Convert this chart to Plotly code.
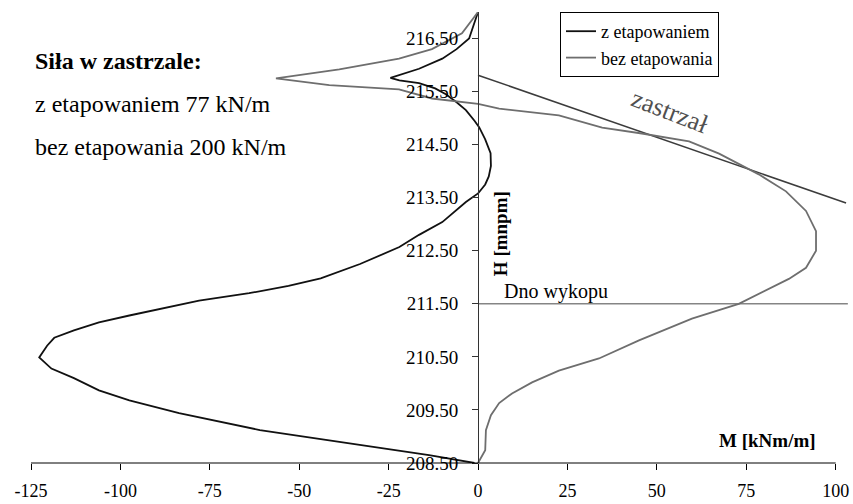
import plotly.graph_objects as go

# ---- data ----
etap_x = [0, -1, -2.5, -6, -10, -16.5, -22, -24.5, -22, -16.5, -12, -9, -6, -3.4, -1, 0.3, 2, 3.5,
          3.6, 3.0, 2, 0, -3.4, -10, -16.5, -22, -33, -44, -53, -64, -78, -86, -97.5, -106, -113,
          -118.5, -120.5, -122.7, -119.3, -113, -106, -97.5, -83.6, -61, -33, -13.7, -1]
etap_y = [217.0, 216.8, 216.5, 216.3, 216.12, 215.93, 215.82, 215.76, 215.71, 215.66, 215.56, 215.45,
          215.3, 215.15, 214.95, 214.83, 214.6, 214.34, 214.1, 213.9, 213.75, 213.58, 213.42, 213.04,
          212.8, 212.57, 212.25, 211.98, 211.84, 211.7, 211.56, 211.45, 211.28, 211.15, 211.0,
          210.86, 210.71, 210.49, 210.28, 210.1, 209.87, 209.68, 209.44, 209.12, 208.84, 208.65, 208.5]

bez_x = [0, -4.5, -12.9, -22.1, -38.8, -56.5, -41.6, -22.1, -12.9, 0, 5.9, 22.6, 34.7, 45.8, 59,
         67.4, 78.5, 86.1, 91.7, 94.5, 94.5, 91.7, 86.9, 80.5, 72.9, 59.8, 45, 33.8, 22.6, 15.1,
         9.5, 5.9, 3.6, 2.2, 2, 0]
bez_y = [217.0, 216.6, 216.3, 216.12, 215.92, 215.75, 215.62, 215.54, 215.37, 215.27, 215.18, 215.05,
         214.82, 214.71, 214.56, 214.33, 213.94, 213.62, 213.25, 212.87, 212.5, 212.18, 211.97,
         211.75, 211.5, 211.22, 210.81, 210.47, 210.24, 210.02, 209.81, 209.63, 209.4, 209.12,
         208.74, 208.5]

strut_x = [0, 102.9]
strut_y = [215.81, 213.4]

dno_x = [0, 103.4]
dno_y = [211.5, 211.5]

x_ticks = [-125, -100, -75, -50, -25, 0, 25, 50, 75, 100]
x_ticktext = ["-125", "-100", "-75", "-50", "-25", "0", "25", "50", "75", "100"]
y_ticks = [208.5, 209.5, 210.5, 211.5, 212.5, 213.5, 214.5, 215.5, 216.5]
y_ticktext = ["208.50", "209.50", "210.50", "211.50", "212.50", "213.50", "214.50", "215.50", "216.50"]

X_MIN, X_MAX, X_VIEW_MAX = -125, 100, 104
Y_MIN, Y_MAX = 208.5, 217

FONT = "Liberation Serif, Times New Roman, Times, DejaVu Serif, serif"

fig = go.Figure()
fig.add_trace(go.Scatter(x=dno_x, y=dno_y, mode="lines", line=dict(color="#858585", width=1.6),
                         showlegend=False, hoverinfo="skip"))
fig.add_trace(go.Scatter(x=strut_x, y=strut_y, mode="lines", line=dict(color="#3c3c3c", width=1.6),
                         showlegend=False, hoverinfo="skip"))
fig.add_trace(go.Scatter(x=etap_x, y=etap_y, mode="lines", name="z etapowaniem",
                         line=dict(color="#111111", width=1.8)))
fig.add_trace(go.Scatter(x=bez_x, y=bez_y, mode="lines", name="bez etapowania",
                         line=dict(color="#6e6e6e", width=1.8)))

L, R, T, B = 31, 3, 12, 41
W = 853 - L - R
ypos = (0 - X_MIN) / (X_VIEW_MAX - X_MIN)

fig.update_layout(
    width=853, height=504,
    margin=dict(l=L, r=R, t=T, b=B, pad=0, autoexpand=False),
    paper_bgcolor="white", plot_bgcolor="white",
    font=dict(family=FONT, color="black", size=18),
    xaxis=dict(range=[X_MIN, X_VIEW_MAX], domain=[0, 1], tickvals=x_ticks, ticktext=x_ticktext,
               ticks="outside", ticklen=6, tickcolor="black", showline=False,
               showgrid=False, zeroline=False, ticklabelstandoff=5, automargin=False,
               tickfont=dict(family=FONT, size=18, color="black")),
    yaxis=dict(range=[Y_MIN, Y_MAX], anchor="free", position=ypos, tickvals=y_ticks,
               ticktext=y_ticktext, ticks="outside", ticklen=6, tickcolor="#333",
               showline=True, linecolor="#333", linewidth=1, showgrid=False, zeroline=False,
               ticklabelstandoff=10, automargin=False,
               tickfont=dict(family=FONT, size=19, color="black")),
    legend=dict(x=(560 - L) / W, y=1, xanchor="left", yanchor="top", bgcolor="white",
                bordercolor="black", borderwidth=1, font=dict(family=FONT, size=18, color="black"),
                itemwidth=30, tracegroupgap=0),
)

# bottom axis line spanning only the labelled range
fig.add_shape(type="line", xref="x", yref="paper", x0=X_MIN, x1=X_MAX, y0=0, y1=0,
              line=dict(color="black", width=1), layer="above")

ann = [
    dict(x=-124.4, y=216.08, text="<b>Siła w zastrzale:</b>", xanchor="left", font=dict(size=24)),
    dict(x=-124.4, y=215.27, text="z etapowaniem 77 kN/m", xanchor="left", font=dict(size=24)),
    dict(x=-124.4, y=214.46, text="bez etapowania 200 kN/m", xanchor="left", font=dict(size=24)),
    dict(x=6.1, y=212.83, text="<b>H [mnpm]</b>", textangle=-90, font=dict(size=19)),
    dict(x=81.0, y=208.92, text="<b>M [kNm/m]</b>", font=dict(size=19)),
    dict(x=6.8, y=211.74, text="Dno wykopu", xanchor="left", font=dict(size=20)),
    dict(x=53.7, y=215.13, text="zastrzał", textangle=21, font=dict(size=26, color="#505050")),
]
for a in ann:
    a.setdefault("showarrow", False)
    a["xref"] = "x"
    a["yref"] = "y"
    a["font"] = dict(family=FONT, color=a["font"].get("color", "black"), size=a["font"]["size"])
    fig.add_annotation(**a)

fig.write_html("out.html", config={"displayModeBar": False},
               post_script="document.body.style.margin='0';")
